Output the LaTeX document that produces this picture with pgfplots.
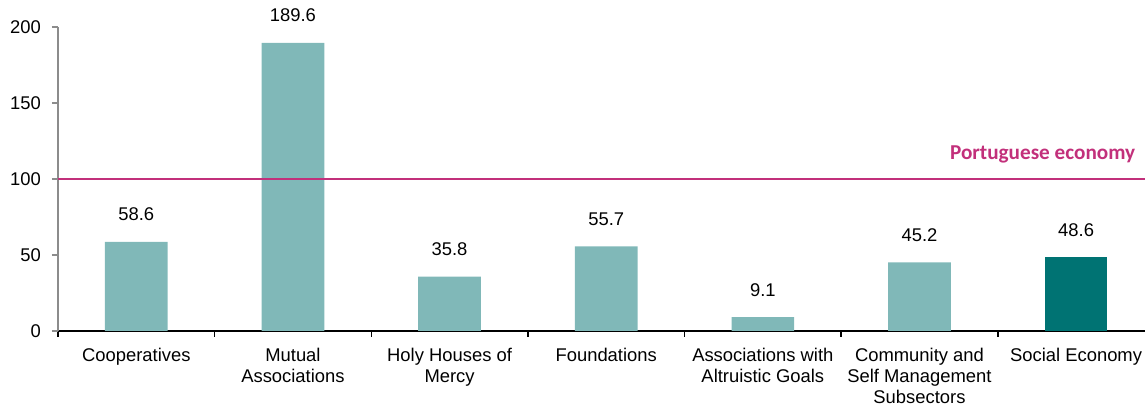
\documentclass[border=0pt]{standalone}
\usepackage{pgfplots}
\pgfplotsset{compat=1.18}
\usepackage{fontspec}
\setmainfont{Liberation Sans}
\newfontfamily\carlito{Carlito}
\definecolor{barlight}{HTML}{80B8B8}
\definecolor{bardark}{HTML}{007373}
\definecolor{ptline}{HTML}{C2307B}
\definecolor{axgray}{HTML}{8C8C8C}
\begin{document}
\begin{tikzpicture}
\useasboundingbox (-29pt,-37pt) rectangle (543.5pt,165.5pt);
\begin{axis}[
  at={(0,0)}, anchor=south west,
  scale only axis,
  width=543.5pt, height=152pt,
  xmin=-0.5, xmax=6.44, ymin=0, ymax=200,
  axis x line*=bottom, axis y line*=left,
  x axis line style={black, line width=1pt, -},
  y axis line style={axgray, line width=0.75pt, -},
  ytick={0,50,100,150,200},
  tick align=outside,
  y tick style={axgray, line width=0.75pt},
  major tick length=3pt,
  xtick={0,...,6},
  x tick style={draw=none},
  minor xtick={-0.5,0.5,...,5.5},
  minor x tick style={draw=black, line width=0.75pt},
  minor tick length=3pt,
  xticklabels={Cooperatives,{Mutual\\Associations},{Holy Houses of\\Mercy},Foundations,{Associations with\\Altruistic Goals},{Community and\\Self Management\\Subsectors},Social Economy},
  xticklabel style={align=center, font=\fontsize{9.2}{10.5}\selectfont, anchor=north, yshift=-2pt},
  yticklabel style={font=\fontsize{9.2}{10.5}\selectfont, xshift=-2pt},
  /pgf/number format/assume math mode=true,
  ybar, bar width=0.4,
  nodes near coords,
  nodes near coords style={font=\fontsize{9.2}{10.5}\selectfont, anchor=base, yshift=10.5pt,
    /pgf/number format/.cd, fixed, fixed zerofill, precision=1, assume math mode=true},
  clip=false,
]
\addplot[fill=barlight, draw=none, bar shift=0pt] coordinates {(0,58.6) (1,189.6) (2,35.8) (3,55.7) (4,9.1) (5,45.2)};
\addplot[fill=bardark, draw=none, bar shift=0pt] coordinates {(6,48.6)};
\addplot[ptline, line width=0.9pt, sharp plot, nodes near coords={}, forget plot] coordinates {(-0.5,100) (6.44,100)};
\node[anchor=base east, text=ptline, font=\carlito\bfseries\fontsize{10.6}{12}\selectfont, inner sep=0pt, yshift=9.5pt] at (axis cs:6.38,100) {Portuguese economy};
\end{axis}
\end{tikzpicture}
\end{document}
